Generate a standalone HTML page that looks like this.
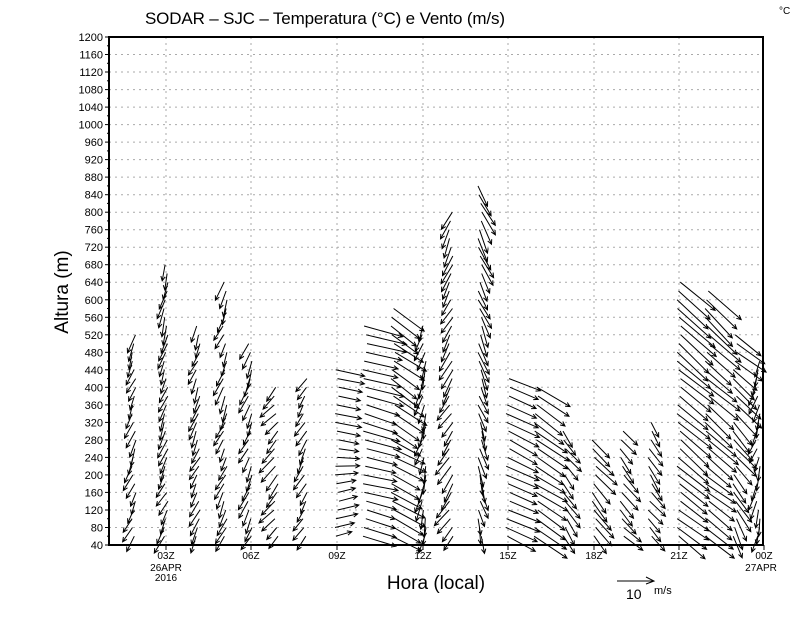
<!DOCTYPE html>
<html><head><meta charset="utf-8"><style>
body{margin:0;background:#fff;width:800px;height:618px;overflow:hidden}
svg{display:block}
text{font-family:"Liberation Sans",sans-serif;fill:#000}
</style></head><body>
<svg id="s" width="800" height="618" xmlns="http://www.w3.org/2000/svg">
<text x="145" y="24" font-size="17" textLength="360">SODAR  –  SJC  –  Temperatura (°C) e Vento (m/s)</text>
<text x="779" y="14" font-size="10">°C</text>
<text transform="translate(68,292) rotate(-90)" text-anchor="middle" font-size="19">Altura (m)</text>
<text x="436" y="589" text-anchor="middle" font-size="19">Hora (local)</text>
<line x1="617" y1="581" x2="654" y2="581" stroke="#000"/>
<polyline points="646,577 654,581 646,584" fill="none" stroke="#000"/>
<text x="626" y="599" font-size="14">10</text>
<text x="654" y="594" font-size="11">m/s</text>
<g id="g"></g>
</svg>
<script>
var g=document.getElementById('g'),h='';
var L=109,R=763,T=37,B=545;
function Y(a){return B-(a-40)*(B-T)/1160;}
for(var a=80;a<1200;a+=40){var y=Y(a).toFixed(1);h+='<line x1="'+L+'" y1="'+y+'" x2="'+R+'" y2="'+y+'" stroke="#aaa" stroke-dasharray="2,4"/>';}
var xs=[166,251,337,423,508,594,679];
xs.forEach(function(x){h+='<line x1="'+x+'" y1="'+T+'" x2="'+x+'" y2="'+B+'" stroke="#aaa" stroke-dasharray="2,4"/>';});
for(var a=40;a<=1200;a+=20){var y=Y(a).toFixed(1);var w=(a%40==0)?4:2;h+='<line x1="'+(L-w)+'" y1="'+y+'" x2="'+L+'" y2="'+y+'" stroke="#000"/>';
 if(a%40==0)h+='<text x="'+(L-6)+'" y="'+(+y+4)+'" text-anchor="end" font-size="11">'+a+'</text>';}
var lab=['03Z','06Z','09Z','12Z','15Z','18Z','21Z','00Z'];
xs.concat([764]).forEach(function(x,i){h+='<line x1="'+x+'" y1="'+B+'" x2="'+x+'" y2="'+(B+5)+'" stroke="#000"/><text x="'+x+'" y="'+(B+14)+'" text-anchor="middle" font-size="10">'+lab[i]+'</text>';});
h+='<text x="166" y="571" text-anchor="middle" font-size="10">26APR</text><text x="166" y="581" text-anchor="middle" font-size="10">2016</text>';
h+='<text x="761" y="571" text-anchor="middle" font-size="10">27APR</text>';
h+='<rect x="'+L+'" y="'+T+'" width="'+(R-L)+'" height="'+(B-T)+'" fill="none" stroke="#000" stroke-width="2"/>';
var C=[[134,520,[-7,15],[-6,16]],[166,680,[-8,15],[-5,18]],[198,540,[-8,15],[-6,16]],[225,640,[-8,15],[-6,16]],[250,500,[-8,15],[-6,16]],[276,400,[-12,14],[-12,14]],
[305,420,[-8,14],[-8,14]],[337,440,[18,-6],[26,8]],[365,540,[30,8],[38,10]],[393,580,[30,14],[28,22]],[424,540,[-4,18],[-6,18]],[451,800,[-12,16],[-8,18]],
[480,860,[4,18],[12,22]],[508,420,[30,14],[30,14]],[536,400,[30,20],[30,20]],[565,300,[12,16],[12,16]],[594,280,[14,18],[20,20]],[622,300,[16,16],[12,16]],
[650,320,[14,16],[10,16]],[679,640,[28,22],[34,30]],[707,620,[26,20],[30,28]],[735,520,[10,20],[28,22]],[758,460,[-4,16],[-6,16]]];
C.forEach(function(c,ci){
 for(var a=60;a<=c[1];a+=20){
  var t=(a-60)/Math.max(1,c[1]-60);
  var n=Math.sin(a*0.37+ci*2.1)*3;
  var dx=c[2][0]+(c[3][0]-c[2][0])*t+n, dy=c[2][1]+(c[3][1]-c[2][1])*t+Math.cos(a*0.29+ci)*2;
  var x0=c[0]+Math.sin(a*0.05+ci)*2,y0=Y(a);
  var x1=x0+dx,y1=y0+dy;
  var len=Math.sqrt(dx*dx+dy*dy),ux=dx/len,uy=dy/len,s=5;
  var ca=Math.cos(0.45),sa=Math.sin(0.45);
  var ax=x1-s*(ux*ca-uy*sa),ay=y1-s*(uy*ca+ux*sa),bx=x1-s*(ux*ca+uy*sa),by=y1-s*(uy*ca-ux*sa);
  h+='<path d="M'+x0.toFixed(1)+' '+y0.toFixed(1)+'L'+x1.toFixed(1)+' '+y1.toFixed(1)+'M'+ax.toFixed(1)+' '+ay.toFixed(1)+'L'+x1.toFixed(1)+' '+y1.toFixed(1)+'L'+bx.toFixed(1)+' '+by.toFixed(1)+'" fill="none" stroke="#000" stroke-width="1"/>';
 }
});
g.innerHTML=h;
</script>
</body></html>
